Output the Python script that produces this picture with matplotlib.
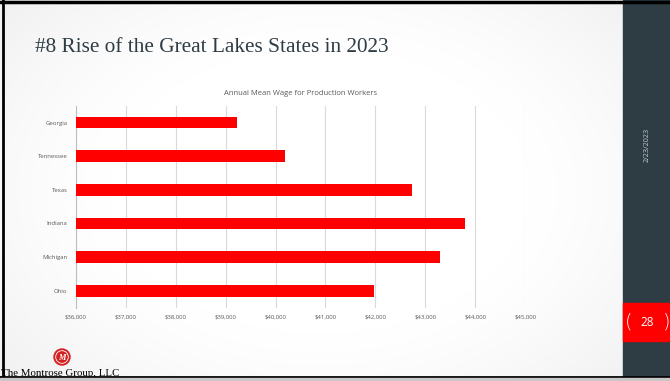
import matplotlib
matplotlib.use('Agg')
import matplotlib.pyplot as plt
import numpy as np
from matplotlib.patches import Rectangle, Circle

states = ["Georgia", "Tennessee", "Texas", "Indiana", "Michigan", "Ohio"]
wages = [39235, 40185, 42740, 43790, 43300, 41980]
x_ticks = [36000, 37000, 38000, 39000, 40000, 41000, 42000, 43000, 44000, 45000]
x_labels = ["$" + format(t, ",") for t in x_ticks]

W, H = 670, 381
fig = plt.figure(figsize=(W / 100, H / 100), dpi=100)

# slide background with soft gradient
bg = fig.add_axes([0, 0, 1, 1])
bg.set_xlim(0, W)
bg.set_ylim(H, 0)
bg.axis("off")
yy, xx = np.mgrid[0:H, 0:623]
d = np.sqrt(((xx - 320) / 380.0) ** 2 + ((yy - 190) / 260.0) ** 2)
shade = 1 - 0.12 * np.clip(d - 0.55, 0, 1) ** 1.3
img = np.dstack([shade, shade, shade])
bg.imshow(img, extent=[0, 623, H, 0], aspect="auto", zorder=0)
bg.add_patch(Rectangle((623, 0), W - 623, H, color="#2e3c44", zorder=1))
bg.add_patch(Rectangle((623, 303), W - 623, 38, color="#ff0000", zorder=2))
bg.text(647, 322, "28", color="white", fontsize=8.5, ha="center", va="center",
        family="Open Sans", zorder=3)
bg.text(629, 322, "(", color="white", fontsize=14, ha="center", va="center",
        family="DejaVu Sans", fontweight="light", zorder=3)
bg.text(667, 322, ")", color="white", fontsize=14, ha="center", va="center",
        family="DejaVu Sans", fontweight="light", zorder=3)
bg.text(647, 145, "2/23/2023", color="#c4cacd", fontsize=5.2, rotation=90,
        ha="center", va="center", family="Open Sans", zorder=3)
# border lines
bg.plot([0, W], [1.5, 1.5], color="black", lw=2.5, zorder=4)
bg.plot([3, 3], [0, 378], color="black", lw=2, zorder=4)
bg.plot([0, W], [377, 377], color="black", lw=2, zorder=4)
bg.add_patch(Rectangle((0, 378), W, 3, color="#c8c8c8", zorder=4))

bg.text(35, 48, "#8 Rise of the Great Lakes States in 2023", color="#2e3c44",
        fontsize=15.3, ha="left", va="center", family="Liberation Serif", zorder=3)

# logo
bg.add_patch(Circle((62, 357), 8, color="#d42020", zorder=3))
bg.add_patch(Circle((62, 357), 6.3, facecolor="none", edgecolor="white", lw=0.6, zorder=4))
bg.text(62, 357.5, "M", color="white", fontsize=6, fontweight="bold", style="italic",
        ha="center", va="center", family="Liberation Serif", zorder=5)
bg.text(1, 373, "The Montrose Group, LLC", color="black", fontsize=7.8,
        ha="left", va="center", family="Liberation Serif", zorder=3)

# chart
ax = fig.add_axes([75.7 / W, 1 - 307.6 / H, (525.3 - 75.7) / W, (307.6 - 105.7) / H])
ax.set_facecolor("none")
y = np.arange(len(states))
ax.barh(y, [w - x_ticks[0] for w in wages], left=x_ticks[0], height=0.35,
        color="#ff0000", zorder=3)
ax.set_xlim(x_ticks[0], x_ticks[-1])
ax.set_ylim(len(states) - 0.5, -0.5)
ax.set_yticks(y)
ax.set_yticklabels(states, fontsize=4.3, color="#595959", family="Open Sans")
ax.set_xticks(x_ticks)
ax.set_xticklabels(x_labels, fontsize=4.3, color="#595959", family="Open Sans")
ax.tick_params(length=0, pad=6)
ax.tick_params(axis="x", pad=5)
ax.grid(axis="x", color="#d9d9d9", lw=0.8, zorder=0)
for s in ["top", "right", "bottom"]:
    ax.spines[s].set_visible(False)
ax.spines["left"].set_color("#bfbfbf")
ax.spines["left"].set_linewidth(0.8)
ax.set_title("Annual Mean Wage for Production Workers", fontsize=5.5, color="#595959",
             family="Open Sans", pad=8)

fig.savefig("out.png", dpi=100)
